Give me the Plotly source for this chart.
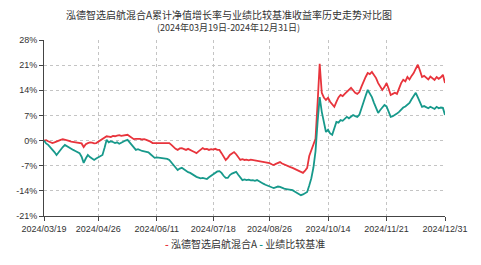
import pandas as pd
import plotly.graph_objects as go

# ---- data ----
holidays = ["2024-04-04", "2024-04-05", "2024-05-01", "2024-05-02", "2024-05-03",
            "2024-06-10", "2024-09-16", "2024-09-17", "2024-10-01", "2024-10-02",
            "2024-10-03", "2024-10-04", "2024-10-07"]
tick_labels = ["2024/03/19", "2024/04/26", "2024/06/11", "2024/07/18",
               "2024/08/26", "2024/10/14", "2024/11/21", "2024/12/31"]
y_ticks = [-21, -14, -7, 0, 7, 14, 21, 28]

fund = [
    0, 0.1, -0.2, -0.4, -0.7, -0.5, -0.2, 0.0, 0.2, 0.4,
    0.3, 0.1, -0.1, -0.3, -0.4, -0.3, -0.5, -0.6, -0.8, -1.8,
    -1.0, -0.7, -0.5, -0.6, -0.8, -0.7, -0.3, 0.1, 0.6, 1.0,
    1.2, 1.1, 1.0, 1.3, 1.2, 1.4, 1.5, 1.3, 1.4, 1.5,
    1.6, 1.2, 0.8, 0.4, 0.5, 0.6, 0.5, 0.3, 0.4, 0.2,
    0.0, -0.3, -0.7, -0.7, -0.8, -0.7, -0.7, -0.7, -0.6, -0.7,
    -0.7, -1.2, -1.8, -2.3, -2.6, -2.2, -2.1, -2.4, -2.6, -2.3,
    -2.5, -2.9, -3.2, -3.5, -3.0, -2.6, -2.1, -2.4, -2.3, -2.6,
    -2.4, -2.5, -2.3, -2.6, -2.6, -3.5, -4.6, -5.4, -4.8, -4.0,
    -3.6, -3.2, -3.8, -4.8, -5.4, -5.2, -5.4, -5.3, -5.5, -5.3,
    -5.4, -5.6, -5.7, -5.6, -5.9, -5.8, -6.0, -6.0, -6.3, -6.6,
    -6.8, -6.5, -6.2, -6.0, -6.4, -6.7, -7.0, -7.2, -7.4, -7.6,
    -7.9, -8.2, -8.5, -8.7, -9.0, -8.4, -7.6, -4.3, -2.5, -1.0,
    0.5, 10.5, 21.4, 13.3, 12.0, 11.3, 11.9, 10.8, 10.0, 9.4,
    10.8, 12.0, 12.7, 12.4, 13.0, 13.5, 14.0, 14.7, 14.0, 13.3,
    13.0, 13.5, 15.0, 16.5, 17.7, 18.8, 18.5, 19.1, 18.3, 17.4,
    16.0, 15.0, 14.1, 14.9, 16.0, 14.5, 12.7, 13.0, 13.3, 13.0,
    14.5, 16.0, 16.9, 16.5, 17.7, 17.0, 18.0, 18.8, 20.0, 21.1,
    19.5, 17.7, 18.0, 17.5, 17.0, 17.8, 17.4, 16.9, 17.7, 17.2,
    17.6, 18.3, 16.0,
]

bench = [
    0, -0.8, -1.2, -1.8, -2.5, -3.2, -4.0, -3.2, -2.4, -1.8,
    -1.2, -1.6, -2.0, -2.3, -2.6, -2.9, -3.2, -3.5, -4.5, -6.2,
    -5.0, -4.0, -4.6, -5.0, -5.4, -5.0, -4.6, -4.2, -4.0, -2.0,
    0.2, -0.5, -0.2, -0.4, -0.7, -0.5, -0.9, -0.6, -0.2, 0.0,
    0.2, -0.5, -1.3, -2.0, -2.6, -2.4, -2.7, -2.9, -3.0, -3.2,
    -3.3, -3.8, -4.3, -4.8, -4.7, -4.8, -4.9, -4.8, -5.0, -5.1,
    -5.4, -6.0, -6.8, -7.5, -8.2, -7.8, -7.6, -8.0, -8.5, -8.8,
    -9.0, -9.4, -9.8, -10.1, -10.3, -10.5, -10.4, -10.6, -10.7, -10.2,
    -9.8, -9.2, -8.8, -8.6, -8.5, -9.0, -9.8, -10.4, -10.4, -9.6,
    -9.2, -8.9, -8.7, -9.5, -10.4, -11.0, -10.8, -11.0, -10.9, -11.1,
    -11.0, -11.2, -11.0, -11.4, -11.7, -12.0, -12.3, -12.6, -12.9, -13.0,
    -13.2, -13.0, -12.8, -12.9, -13.2, -13.4, -13.5, -13.6, -13.7, -13.8,
    -14.2, -14.6, -15.0, -15.2, -15.0, -14.6, -14.3, -12.5, -10.5, -7.5,
    -3.0, 5.2, 12.1, 8.0, 5.0, 2.4, 3.0, 2.0, 1.6, 3.5,
    5.2, 5.0, 5.7, 5.5, 6.0, 6.6, 6.2, 6.8, 7.1, 6.8,
    6.6, 7.2, 9.0, 11.3, 12.5, 14.1, 13.0, 12.1, 10.5, 9.0,
    7.7, 8.5, 9.2, 9.9, 9.5, 8.0, 6.6, 6.8, 7.1, 7.5,
    8.0, 8.6, 9.2, 9.5, 9.9, 10.5, 11.5, 12.3, 13.3, 12.0,
    10.5, 9.4, 9.6, 9.2, 9.0, 9.4, 9.1, 8.8, 9.4, 9.0,
    9.2, 9.1, 7.1,
]

dates = pd.bdate_range("2024-03-19", "2024-12-31")
dates = [d for d in dates if d.strftime("%Y-%m-%d") not in holidays]
dates = [d.strftime("%Y/%m/%d") for d in dates]
n = min(len(dates), len(fund), len(bench))
dates, fund, bench = dates[:n], fund[:n], bench[:n]

RED = "#e8343c"
TEAL = "#17998b"
TXT = "#333333"

fig = go.Figure()
fig.add_trace(go.Scatter(x=dates, y=fund, mode="lines", name="泓德智选启航混合A",
                         line=dict(color=RED, width=1.8), showlegend=False))
fig.add_trace(go.Scatter(x=dates, y=bench, mode="lines", name="业绩比较基准",
                         line=dict(color=TEAL, width=1.8), showlegend=False))

fig.update_layout(
    width=481, height=265,
    margin=dict(l=44, r=36, t=40, b=49),
    paper_bgcolor="white", plot_bgcolor="white",
    font=dict(family="Liberation Sans, Arial, sans-serif", size=9, color=TXT),
    xaxis=dict(type="category", range=[0, n - 1], tickvals=tick_labels, ticktext=tick_labels,
               showgrid=True, gridcolor="#c4c4c4", griddash="dot", gridwidth=1,
               showline=True, linecolor="#444", linewidth=1,
               ticks="outside", ticklen=4, tickcolor="#444", tickangle=0,
               tickfont=dict(size=9, color=TXT), zeroline=False),
    yaxis=dict(range=[-21, 28], tickvals=y_ticks, ticktext=[f"{v}%" for v in y_ticks],
               showgrid=True, gridcolor="#c4c4c4", griddash="dot", gridwidth=1,
               showline=True, linecolor="#444", linewidth=1,
               ticks="outside", ticklen=4, tickcolor="#444",
               tickfont=dict(size=9, color=TXT), zeroline=False),
    annotations=[
        dict(text="泓德智选启航混合A累计净值增长率与业绩比较基准收益率历史走势对比图",
             xref="paper", yref="paper", x=0.461, y=1.0, yshift=25.5, xanchor="center",
             yanchor="middle", showarrow=False,
             font=dict(family="Noto Sans CJK SC", size=10, color=TXT)),
        dict(text="(2024年03月19日-2024年12月31日)",
             xref="paper", yref="paper", x=0.461, y=1.0, yshift=12.5, xanchor="center",
             yanchor="middle", showarrow=False,
             font=dict(family="Noto Sans CJK SC", size=9, color=TXT)),
        dict(text=f'<span style="color:{RED}"><b>-</b></span> 泓德智选启航混合A '
                  f'<span style="color:{TEAL}"><b>-</b></span> 业绩比较基准',
             xref="paper", yref="paper", x=0.5, y=0, yshift=-27, xanchor="center",
             yanchor="middle", showarrow=False,
             font=dict(family="Noto Sans CJK SC", size=10, color=TXT)),
    ],
)

fig.write_html("out.html")
